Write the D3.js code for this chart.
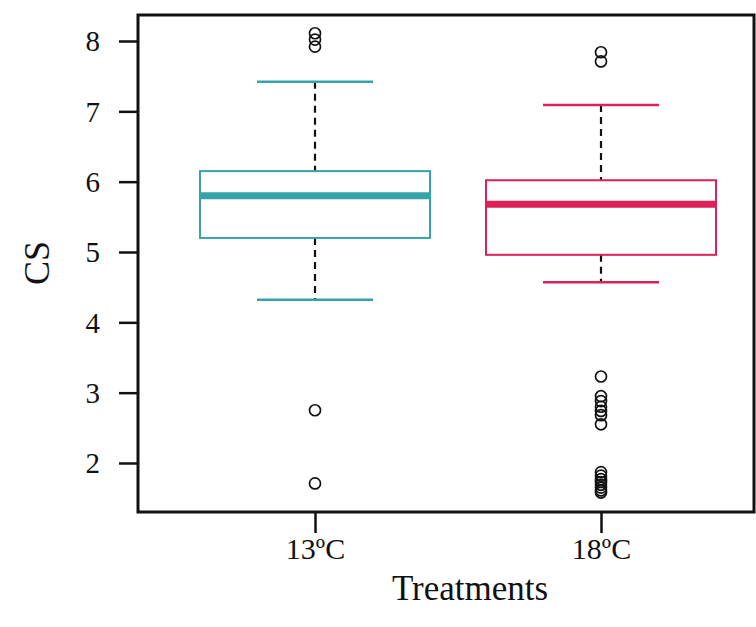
<!DOCTYPE html>
<html><head><meta charset="utf-8">
<script src="https://cdn.jsdelivr.net/npm/d3@7"></script>
<style>body{margin:0;background:#fff}</style>
</head><body><svg id="c" width="756" height="627"></svg>
<script>
const categories = ["13ºC", "18ºC"];
const colors = ["#35a3a9", "#db2157"];
const whiskerLow = [4.32, 4.57];
const q1 = [5.20, 4.96];
const medians = [5.80, 5.68];
const q3 = [6.15, 6.02];
const whiskerHigh = [7.42, 7.09];
const outliers13 = [8.11, 8.02, 7.92, 2.75, 1.71];
const outliers18 = [7.84, 7.71, 3.23, 2.95, 2.88, 2.80, 2.74, 2.68, 2.55, 1.87, 1.82, 1.77, 1.73, 1.69, 1.65, 1.61, 1.58];
const outliers = [outliers13, outliers18];
const yTicks = [2, 3, 4, 5, 6, 7, 8];

const svg = d3.select("#c");
const L = 138, R = 754, T = 15, B = 512;
const y = d3.scaleLinear().domain([2, 8]).range([463, 41]);
const x = d3.scaleLinear().domain([0, 1]).range([315, 601]);
const boxHalf = 115, capHalf = 58;
const font = "'Liberation Serif', 'DejaVu Serif', serif";

const g = svg.append("g");
categories.forEach((c, i) => {
  const cx = x(i);
  const col = colors[i];
  g.append("line").attr("x1", cx).attr("x2", cx).attr("y1", y(whiskerHigh[i])).attr("y2", y(q3[i]))
    .attr("stroke", "#111").attr("stroke-width", 2.2).attr("stroke-dasharray", "7,5");
  g.append("line").attr("x1", cx).attr("x2", cx).attr("y1", y(q1[i])).attr("y2", y(whiskerLow[i]))
    .attr("stroke", "#111").attr("stroke-width", 2.2).attr("stroke-dasharray", "7,5");
  [whiskerHigh[i], whiskerLow[i]].forEach(v => {
    g.append("line").attr("x1", cx - capHalf).attr("x2", cx + capHalf).attr("y1", y(v)).attr("y2", y(v))
      .attr("stroke", col).attr("stroke-width", 2.5);
  });
  g.append("rect").attr("x", cx - boxHalf).attr("width", boxHalf * 2)
    .attr("y", y(q3[i])).attr("height", y(q1[i]) - y(q3[i]))
    .attr("fill", "#fff").attr("stroke", col).attr("stroke-width", 2);
  g.append("line").attr("x1", cx - boxHalf).attr("x2", cx + boxHalf).attr("y1", y(medians[i])).attr("y2", y(medians[i]))
    .attr("stroke", col).attr("stroke-width", 7);
  g.selectAll(null).data(outliers[i]).enter().append("circle")
    .attr("cx", cx).attr("cy", d => y(d)).attr("r", 5.5)
    .attr("fill", "none").attr("stroke", "#111").attr("stroke-width", 1.7);
});

svg.append("rect").attr("x", L).attr("y", T).attr("width", R - L).attr("height", B - T)
  .attr("fill", "none").attr("stroke", "#111").attr("stroke-width", 3);

const ya = svg.append("g").attr("transform", `translate(${L},0)`)
  .call(d3.axisLeft(y).tickValues(yTicks).tickSize(19).tickPadding(19).tickFormat(d3.format("d")));
ya.select(".domain").remove();
ya.selectAll(".tick line").attr("stroke", "#111").attr("stroke-width", 2.5);
ya.selectAll(".tick text").attr("font-family", font).attr("font-size", 29).attr("fill", "#111").attr("dy", "0.34em");

const xa = svg.append("g").attr("transform", `translate(0,${B})`)
  .call(d3.axisBottom(x).tickValues([0, 1]).tickSize(21).tickPadding(5).tickFormat(i => categories[i]));
xa.select(".domain").remove();
xa.selectAll(".tick line").attr("stroke", "#111").attr("stroke-width", 2.5);
xa.selectAll(".tick text").attr("font-family", font).attr("font-size", 30).attr("fill", "#111");

svg.append("text").attr("transform", "translate(49,263) rotate(-90)").attr("text-anchor", "middle")
  .attr("font-family", font).attr("font-size", 36).attr("fill", "#111").text("CS");
svg.append("text").attr("x", 470).attr("y", 600).attr("text-anchor", "middle")
  .attr("font-family", font).attr("font-size", 35).attr("fill", "#111").text("Treatments");
</script></body></html>
